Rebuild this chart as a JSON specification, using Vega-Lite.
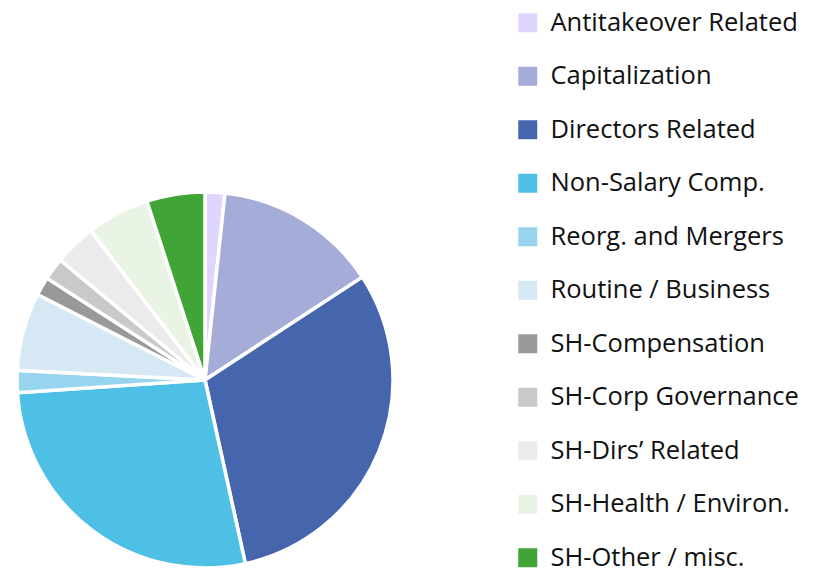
{
  "$schema": "https://vega.github.io/schema/vega-lite/v6.json",
  "width": 410,
  "height": 380,
  "autosize": "none",
  "padding": {"left": 0, "top": 190, "right": 405, "bottom": 0},
  "background": "white",
  "data": {
    "values": [
      {"idx": 1, "category": "Antitakeover Related", "share": 1.7},
      {"idx": 2, "category": "Capitalization", "share": 14.1},
      {"idx": 3, "category": "Directors Related", "share": 30.8},
      {"idx": 4, "category": "Non-Salary Comp.", "share": 27.4},
      {"idx": 5, "category": "Reorg. and Mergers", "share": 1.9},
      {"idx": 6, "category": "Routine / Business", "share": 6.7},
      {"idx": 7, "category": "SH-Compensation", "share": 1.6},
      {"idx": 8, "category": "SH-Corp Governance", "share": 1.9},
      {"idx": 9, "category": "SH-Dirs’ Related", "share": 3.6},
      {"idx": 10, "category": "SH-Health / Environ.", "share": 5.4},
      {"idx": 11, "category": "SH-Other / misc.", "share": 5.0}
    ]
  },
  "mark": {"type": "arc", "outerRadius": 188, "stroke": "white", "strokeWidth": 3.5},
  "encoding": {
    "theta": {"field": "share", "type": "quantitative", "stack": true},
    "order": {"field": "idx", "type": "quantitative"},
    "color": {
      "field": "category",
      "type": "nominal",
      "scale": {
        "domain": ["Antitakeover Related", "Capitalization", "Directors Related", "Non-Salary Comp.", "Reorg. and Mergers", "Routine / Business", "SH-Compensation", "SH-Corp Governance", "SH-Dirs’ Related", "SH-Health / Environ.", "SH-Other / misc."],
        "range": ["#e0d5fc", "#a6acd8", "#4565ad", "#4fc0e5", "#97d5ef", "#d7e8f5", "#999999", "#c9c9c9", "#ebebeb", "#eaf4e4", "#41a436"]
      },
      "legend": {
        "title": null,
        "orient": "none",
        "legendX": 515,
        "legendY": -180,
        "symbolType": "square",
        "symbolSize": 361,
        "symbolStrokeWidth": 0,
        "labelFontSize": 25.5,
        "labelFont": "Open Sans",
        "labelColor": "#111111",
        "labelOffset": 10,
        "labelLimit": 400,
        "rowPadding": 26.5,
        "padding": 0
      }
    }
  },
  "config": {"view": {"stroke": null}}
}
